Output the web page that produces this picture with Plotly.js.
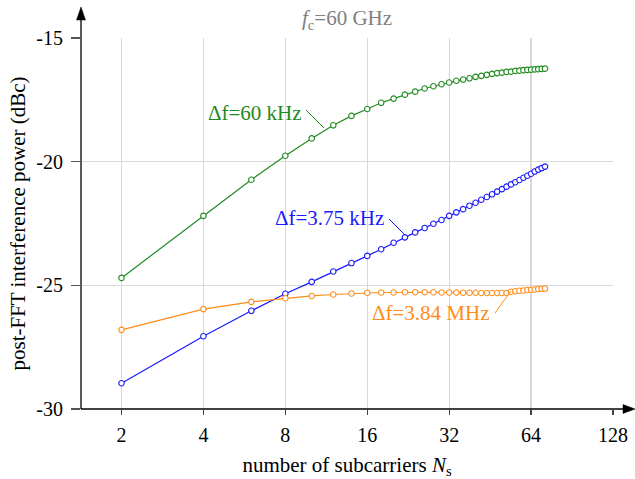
<!DOCTYPE html>
<html>
<head>
<meta charset="utf-8">
<script src="https://cdn.plot.ly/plotly-3.0.1.min.js"></script>
<style>html,body{margin:0;padding:0;background:#fff;}#chart{width:635px;height:479px;}</style>
</head>
<body>
<div id="chart"></div>
<script>
// number of subcarriers
const subcarriers = [2,4,6,8,10,12,14,16,18,20,22,24,26,28,30,32,34,36,38,40,42,44,46,48,50,52,54,56,58,60,62,64,66,68,70,72];
// post-FFT interference power (dBc)
const df60kHz = [-24.70,-22.19,-20.73,-19.76,-19.06,-18.53,-18.15,-17.87,-17.62,-17.45,-17.29,-17.17,-17.04,-16.95,-16.87,-16.80,-16.73,-16.68,-16.63,-16.57,-16.53,-16.49,-16.45,-16.42,-16.40,-16.37,-16.36,-16.33,-16.32,-16.30,-16.29,-16.28,-16.27,-16.26,-16.25,-16.24];
const df375kHz = [-28.96,-27.06,-26.03,-25.34,-24.86,-24.44,-24.10,-23.81,-23.54,-23.28,-23.06,-22.86,-22.68,-22.51,-22.36,-22.19,-22.05,-21.92,-21.78,-21.66,-21.54,-21.43,-21.32,-21.21,-21.11,-21.01,-20.92,-20.83,-20.74,-20.65,-20.57,-20.49,-20.40,-20.32,-20.26,-20.20];
const df384MHz = [-26.80,-25.96,-25.67,-25.52,-25.43,-25.37,-25.33,-25.30,-25.29,-25.29,-25.28,-25.28,-25.28,-25.28,-25.29,-25.29,-25.29,-25.30,-25.30,-25.30,-25.31,-25.31,-25.31,-25.31,-25.31,-25.31,-25.26,-25.24,-25.22,-25.21,-25.19,-25.18,-25.17,-25.15,-25.14,-25.13];
const seriesNames = ["Δf=60 kHz","Δf=3.75 kHz","Δf=3.84 MHz"];
const seriesColors = ["#1f8a1f","#1a1aff","#ff8c1a"];
const xTickVals = [2,4,8,16,32,64,128];
const xTickText = ["2","4","8","16","32","64","128"];
const yTickVals = [-30,-25,-20,-15];
const yTickText = ["-30","-25","-20","-15"];

const FONT = "'Liberation Serif', 'Times New Roman', serif";
const seriesData = [df60kHz, df375kHz, df384MHz];
const traces = seriesData.map((ys, i) => ({
  x: subcarriers, y: ys, type: "scatter", mode: "lines+markers", name: seriesNames[i],
  line: {color: seriesColors[i], width: 1.2},
  marker: {symbol: "circle", size: 5.5, color: "#ffffff", line: {color: seriesColors[i], width: 1.1}},
  hoverinfo: "x+y"
}));

// paper coordinate helpers (plot area: x 81..613, y 38..409)
const W = 532, H = 371;
const px = X => (X - 81) / W;
const py = Y => (409 - Y) / H;

const shapes = [
  {type: "line", xref: "paper", yref: "paper", x0: 0, x1: 0, y0: 0, y1: py(14), line: {color: "#000", width: 1.3}},
  {type: "path", xref: "paper", yref: "paper", path: `M ${px(81)} ${py(7)} L ${px(76.5)} ${py(20)} L ${px(85.5)} ${py(20)} Z`, fillcolor: "#000", line: {color: "#000", width: 0.5}},
  {type: "line", xref: "paper", yref: "paper", x0: 0, x1: px(628), y0: 0, y1: 0, line: {color: "#000", width: 1.3}},
  {type: "path", xref: "paper", yref: "paper", path: `M ${px(635)} ${py(409)} L ${px(623)} ${py(404.5)} L ${px(623)} ${py(413.5)} Z`, fillcolor: "#000", line: {color: "#000", width: 0.5}},
  // leader lines
  {type: "line", xref: "paper", yref: "paper", x0: px(306), y0: py(110), x1: px(324), y1: py(128), line: {color: seriesColors[0], width: 1}},
  {type: "line", xref: "paper", yref: "paper", x0: px(389), y0: py(219), x1: px(405), y1: py(235), line: {color: seriesColors[1], width: 1}},
  {type: "line", xref: "paper", yref: "paper", x0: px(495), y0: py(313), x1: px(511), y1: py(291), line: {color: seriesColors[2], width: 1}}
];

const annotations = [
  {text: seriesNames[0], xref: "paper", yref: "paper", x: px(304), y: py(113), xanchor: "right", yanchor: "middle", showarrow: false, font: {family: FONT, size: 21, color: seriesColors[0]}},
  {text: seriesNames[1], xref: "paper", yref: "paper", x: px(386), y: py(218), xanchor: "right", yanchor: "middle", showarrow: false, font: {family: FONT, size: 21, color: seriesColors[1]}},
  {text: seriesNames[2], xref: "paper", yref: "paper", x: px(492), y: py(313), xanchor: "right", yanchor: "middle", showarrow: false, font: {family: FONT, size: 21, color: seriesColors[2]}}
];

const layout = {
  width: 635, height: 479,
  margin: {l: 81, r: 22, t: 38, b: 70, pad: 0},
  paper_bgcolor: "#fff", plot_bgcolor: "#fff",
  showlegend: false,
  font: {family: FONT, size: 19, color: "#000"},
  title: {text: "<i>f</i><sub>c</sub>=60 GHz", font: {family: FONT, size: 21, color: "#808080"}, x: 0.5, xref: "paper", xanchor: "center", y: 1 - 18/479, yref: "container", yanchor: "middle"},
  xaxis: {
    type: "log", range: [Math.log10(2) - (121.5-81)/81.9*Math.log10(2), Math.log10(128)],
    tickmode: "array", tickvals: xTickVals, ticktext: xTickText,
    ticks: "outside", ticklen: 5, tickwidth: 1.3, tickcolor: "#444",
    ticklabelstandoff: 3,
    showgrid: true, gridcolor: "#d9d9d9", gridwidth: 1.3,
    showline: false, zeroline: false,
    tickfont: {family: FONT, size: 20, color: "#000"},
    title: {text: "number of subcarriers <i>N</i><sub>s</sub>", font: {family: FONT, size: 21, color: "#000"}, standoff: 12},
    automargin: false
  },
  yaxis: {
    range: [-30, -15],
    tickmode: "array", tickvals: yTickVals, ticktext: yTickText,
    ticks: "outside", ticklen: 9, tickwidth: 1.3, tickcolor: "#555",
    ticklabelstandoff: 4,
    showgrid: true, gridcolor: "#d9d9d9", gridwidth: 1.3,
    showline: false, zeroline: false,
    tickfont: {family: FONT, size: 20, color: "#000"},
    title: {text: "post-FFT interference power (dBc)", font: {family: FONT, size: 21, color: "#000"}, standoff: 4},
    automargin: false
  },
  shapes: shapes,
  annotations: annotations
};

Plotly.newPlot("chart", traces, layout, {displayModeBar: false, staticPlot: true});
</script>
</body>
</html>
